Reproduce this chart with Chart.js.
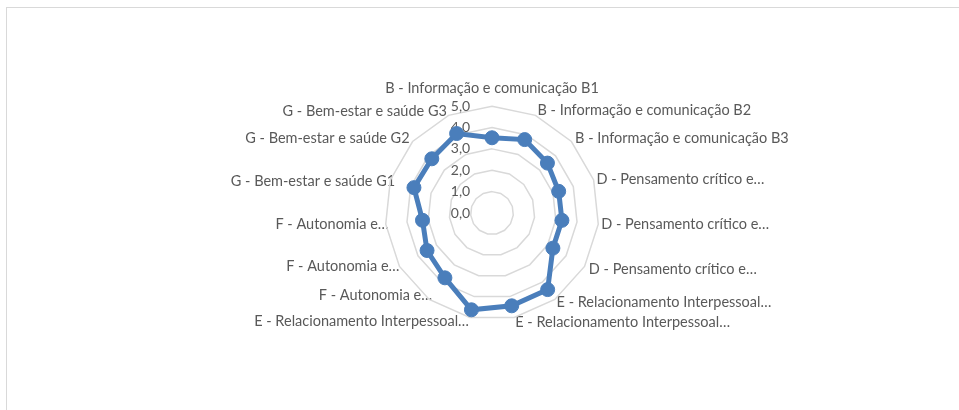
<!DOCTYPE html>
<html><head><meta charset="utf-8">
<script src="https://cdn.jsdelivr.net/npm/chart.js@4/dist/chart.umd.min.js"></script>
<style>
html,body{margin:0;padding:0;background:#fff;overflow:hidden;width:959px;height:410px;}
#frame{position:absolute;left:6px;top:7px;width:1200px;height:800px;border-left:1px solid #d9d9d9;border-top:1px solid #d9d9d9;}
#wrap{position:absolute;left:0;top:0;width:959px;height:410px;}
</style></head><body>
<div id="frame"></div>
<div id="wrap"><canvas id="c" width="959" height="410"></canvas></div>
<script>
const categories = [
  'B - Informação e comunicação B1',
  'B - Informação e comunicação B2',
  'B - Informação e comunicação B3',
  'D - Pensamento crítico e…',
  'D - Pensamento crítico e…',
  'D - Pensamento crítico e…',
  'E - Relacionamento Interpessoal…',
  'E - Relacionamento Interpessoal…',
  'E - Relacionamento Interpessoal…',
  'F - Autonomia e…',
  'F - Autonomia e…',
  'F - Autonomia e…',
  'G - Bem-estar e saúde G1',
  'G - Bem-estar e saúde G2',
  'G - Bem-estar e saúde G3'
];
const values = [3.52, 3.76, 3.49, 3.28, 3.29, 3.29, 4.43, 4.44, 4.63, 3.75, 3.51, 3.27, 3.84, 3.79, 4.07];
const tickLabels = ['0,0', '1,0', '2,0', '3,0', '4,0', '5,0'];
const labelPads = [11, -2, -2, -4, -4, -2, -4, -2, -3, -12, -7, -10, -12, -3, -3];

const FONT = 'Lato, "Open Sans", sans-serif';
new Chart(document.getElementById('c'), {
  type: 'radar',
  data: {
    labels: categories,
    datasets: [{
      data: values,
      borderColor: '#4a7ebb',
      backgroundColor: '#4a7ebb',
      pointBackgroundColor: '#4a7ebb',
      pointBorderColor: '#4a7ebb',
      borderWidth: 5,
      pointRadius: 7,
      pointBorderWidth: 1,
      fill: false,
      tension: 0
    }]
  },
  options: {
    responsive: false,
    animation: false,
    devicePixelRatio: 1,
    layout: { padding: { left: 25, right: 0, top: 83, bottom: 77 } },
    plugins: { legend: { display: false }, tooltip: { enabled: false }, title: { display: false } },
    scales: {
      r: {
        min: -0.000000001,
        max: 5,
        ticks: {
          stepSize: 1,
          showLabelBackdrop: false,
          backdropPadding: 0,
          color: '#595959',
          font: { family: FONT, size: 14 },
          callback: (v, i) => tickLabels[i] + '\u2003\u2003\u2003\u2003\u2003\u2003'
        },
        grid: { color: '#d9d9d9', lineWidth: 1.5, circular: false },
        angleLines: { display: false },
        pointLabels: {
          color: '#595959',
          font: { family: FONT, size: 14.5, lineHeight: 0.01 },
          padding: (ctx) => labelPads[ctx.index]
        }
      }
    }
  }
});
</script>
</body></html>
